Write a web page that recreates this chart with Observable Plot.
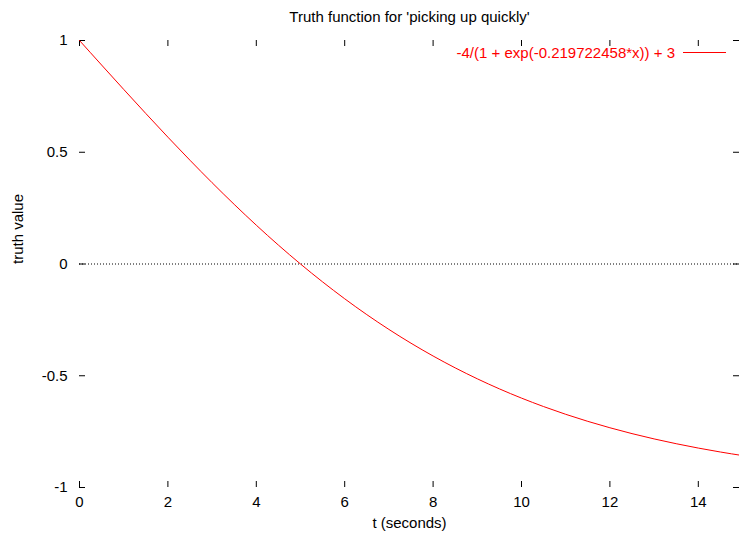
<!DOCTYPE html>
<html>
<head>
<meta charset="utf-8">
<script src="https://cdn.jsdelivr.net/npm/d3@7"></script>
<script src="https://cdn.jsdelivr.net/npm/@observablehq/plot@0.6"></script>
<style>
  html, body { margin: 0; padding: 0; background: #fff; overflow: hidden; }
  svg { display: block; }
</style>
</head>
<body>
<div id="chart"></div>
<script>
const titleText = "Truth function for 'picking up quickly'";
const xLabel = "t (seconds)";
const yLabel = "truth value";
const seriesLabel = "-4/(1 + exp(-0.219722458*x)) + 3";

const tValues = [0, 0.5, 1, 1.5, 2, 2.5, 3, 3.5, 4, 4.5, 5, 5.5, 6, 6.5, 7, 7.5,
  8, 8.5, 9, 9.5, 10, 10.5, 11, 11.5, 12, 12.5, 13, 13.5, 14, 14.5, 15];
const truthValues = [1, 0.8903, 0.7812, 0.6734, 0.5675, 0.4641, 0.3637, 0.2668,
  0.1736, 0.0846, 0, -0.0801, -0.1556, -0.2265, -0.2927, -0.3544, -0.4117,
  -0.4647, -0.5137, -0.5587, -0.6, -0.6379, -0.6725, -0.7040, -0.7327,
  -0.7589, -0.7826, -0.8041, -0.8236, -0.8412, -0.8571];
const xTicks = [0, 2, 4, 6, 8, 10, 12, 14];
const yTicks = [-1, -0.5, 0, 0.5, 1];
const yTickLabels = ["-1", "-0.5", "0", "0.5", "1"];

const data = tValues.map((t, i) => ({t, v: truthValues[i]}));

const W = 739, H = 535, mL = 79, mR = 0, mT = 40, mB = 48;
const pw = W - mL - mR, ph = H - mT - mB;
const tick = 6;
const font = "'Liberation Sans', Arial, Helvetica, sans-serif";
const fs = 15;

const legendMark = (index, scales, values, dims) => {
  const g = d3.create("svg:g");
  const xr = dims.width - dims.marginRight - 13;
  const y = dims.marginTop + 12.5;
  g.append("line").attr("x1", xr - 43).attr("x2", xr).attr("y1", y).attr("y2", y)
    .attr("stroke", "#ff0000").attr("stroke-width", 1);
  g.append("text").attr("x", xr - 51).attr("y", y).attr("dy", "0.35em")
    .attr("text-anchor", "end").attr("fill", "#ff0000")
    .attr("font-size", fs).attr("font-family", font).text(seriesLabel);
  return g.node();
};

const chart = Plot.plot({
  width: W, height: H,
  marginLeft: mL, marginRight: mR, marginTop: mT, marginBottom: mB,
  style: {fontFamily: font, fontSize: fs + "px", background: "#fff", color: "#000", overflow: "hidden"},
  x: {domain: [0, 15], range: [mL, 742], axis: null},
  y: {domain: [-1, 1], axis: null},
  marks: [
    Plot.ruleY([0], {stroke: "#000", strokeWidth: 1, strokeDasharray: "1,2"}),
    // inward ticks on all four sides
    Plot.tickX(xTicks, {x: d => d, insetTop: ph - tick, stroke: "#000"}),
    Plot.tickX(xTicks, {x: d => d, insetBottom: ph - tick, stroke: "#000"}),
    Plot.tickY(yTicks, {y: d => d, insetRight: pw - tick, stroke: "#000"}),
    Plot.tickY(yTicks, {y: d => d, insetLeft: pw - tick, stroke: "#000"}),
    // tick labels
    Plot.text(xTicks, {x: d => d, frameAnchor: "bottom", dy: 15, text: d => String(d),
      textAnchor: "middle", lineAnchor: "middle", fill: "#000", fontSize: fs}),
    Plot.text(yTicks, {y: d => d, frameAnchor: "left", dx: -12, text: (d, i) => yTickLabels[i],
      textAnchor: "end", lineAnchor: "middle", fill: "#000", fontSize: fs}),
    // curve
    Plot.line(data, {x: "t", y: "v", stroke: "#ff0000", strokeWidth: 1, curve: "monotone-x"}),
    // titles
    Plot.text([titleText], {frameAnchor: "top", dy: -23, text: d => d, fill: "#000", fontSize: fs, lineAnchor: "middle"}),
    Plot.text([xLabel], {frameAnchor: "bottom", dy: 36, text: d => d, fill: "#000", fontSize: fs, lineAnchor: "middle"}),
    Plot.text([yLabel], {frameAnchor: "left", dx: -61, rotate: -90, text: d => d, fill: "#000", fontSize: fs, lineAnchor: "middle"}),
    legendMark
  ]
});
document.getElementById("chart").appendChild(chart);
</script>
</body>
</html>
